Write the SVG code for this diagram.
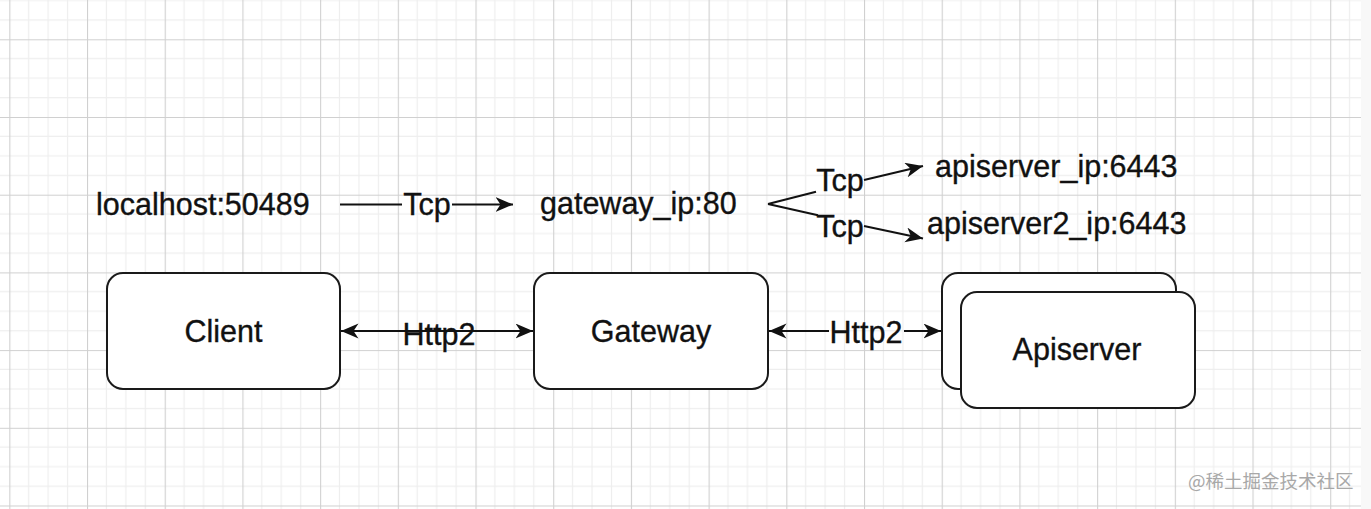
<svg xmlns="http://www.w3.org/2000/svg" width="1371" height="509" viewBox="0 0 1371 509">
<style>
.box{fill:#fff;stroke:#1a1a1a;stroke-width:2}
.t{font-family:"Liberation Sans",Arial,Helvetica,sans-serif;font-size:30.5px;fill:#111;stroke:#111;stroke-width:0.35}
.c{text-anchor:middle}
.edge{fill:none;stroke:#111;stroke-width:2}
.wm{font-family:"Noto Sans CJK SC","Noto Sans",sans-serif;font-size:18.5px;fill:#a8a8a8}
</style>
<defs>
<pattern id="grid" patternUnits="userSpaceOnUse" x="9.3" y="39.3" width="77.7" height="77.7">
<path d="M19.4 0V77.7M38.85 0V77.7M58.3 0V77.7M0 19.4H77.7M0 38.85H77.7M0 58.3H77.7" stroke="#eeeeee" stroke-width="1.2" fill="none"/>
<path d="M0.5 0V77.7M0 0.5H77.7" stroke="#d0d0d0" stroke-width="1.2" fill="none"/>
</pattern>
<marker id="arr" markerUnits="userSpaceOnUse" markerWidth="19" markerHeight="16" refX="17.5" refY="7.5" orient="auto-start-reverse" viewBox="0 0 19 16">
<path d="M0,0 L17.5,7.5 L0,15 L5,7.5 Z" fill="#111"/>
</marker>
</defs>
<rect width="1371" height="509" fill="#fff"/>
<rect width="1361" height="509" fill="url(#grid)"/>
<rect x="1361" y="0" width="10" height="509" fill="#f8f8f8"/>

<g id="connectors">
<g id="e-local-gateway">
<path class="edge" d="M340 204.5H402"/>
<path class="edge" d="M452 204.5H513" marker-end="url(#arr)"/>
<text class="t c" x="427" y="215">Tcp</text>
</g>
<g id="e-gateway-api1">
<path class="edge" d="M768 204L816 191.8"/>
<path class="edge" d="M864 180L923 166" marker-end="url(#arr)"/>
<text class="t c" x="840" y="191">Tcp</text>
</g>
<g id="e-gateway-api2">
<path class="edge" d="M768 204L818 215.3"/>
<path class="edge" d="M864 226L923 238.5" marker-end="url(#arr)"/>
<text class="t c" x="840" y="237">Tcp</text>
</g>
<g id="e-client-gateway">
<path class="edge" d="M341 331H533" marker-start="url(#arr)" marker-end="url(#arr)"/>
<text class="t c" x="439" y="345">Http2</text>
</g>
<g id="e-gateway-apiserver">
<path class="edge" d="M769 331H829" marker-start="url(#arr)"/>
<path class="edge" d="M904 331H941" marker-end="url(#arr)"/>
<text class="t c" x="866" y="343">Http2</text>
</g>
</g>

<g id="n-localhost"><text class="t" x="96" y="215">localhost:50489</text></g>
<g id="n-gateway-ip"><text class="t" x="540" y="214">gateway_ip:80</text></g>
<g id="n-apiserver-ip"><text class="t" x="935" y="176.5">apiserver_ip:6443</text></g>
<g id="n-apiserver2-ip"><text class="t" x="927" y="233.5">apiserver2_ip:6443</text></g>

<g id="n-client">
<rect class="box" x="107" y="273" width="233" height="116" rx="16"/>
<text class="t c" x="223.5" y="342">Client</text>
</g>
<g id="n-gateway">
<rect class="box" x="534" y="273" width="234" height="116" rx="16"/>
<text class="t c" x="651" y="342">Gateway</text>
</g>
<g id="n-apiserver">
<rect class="box" x="942" y="273" width="234" height="116" rx="16"/>
<rect class="box" x="961" y="292" width="234" height="116" rx="16"/>
<text class="t c" x="1077" y="360">Apiserver</text>
</g>

<text class="wm" x="1188" y="488">@稀土掘金技术社区</text>
</svg>
